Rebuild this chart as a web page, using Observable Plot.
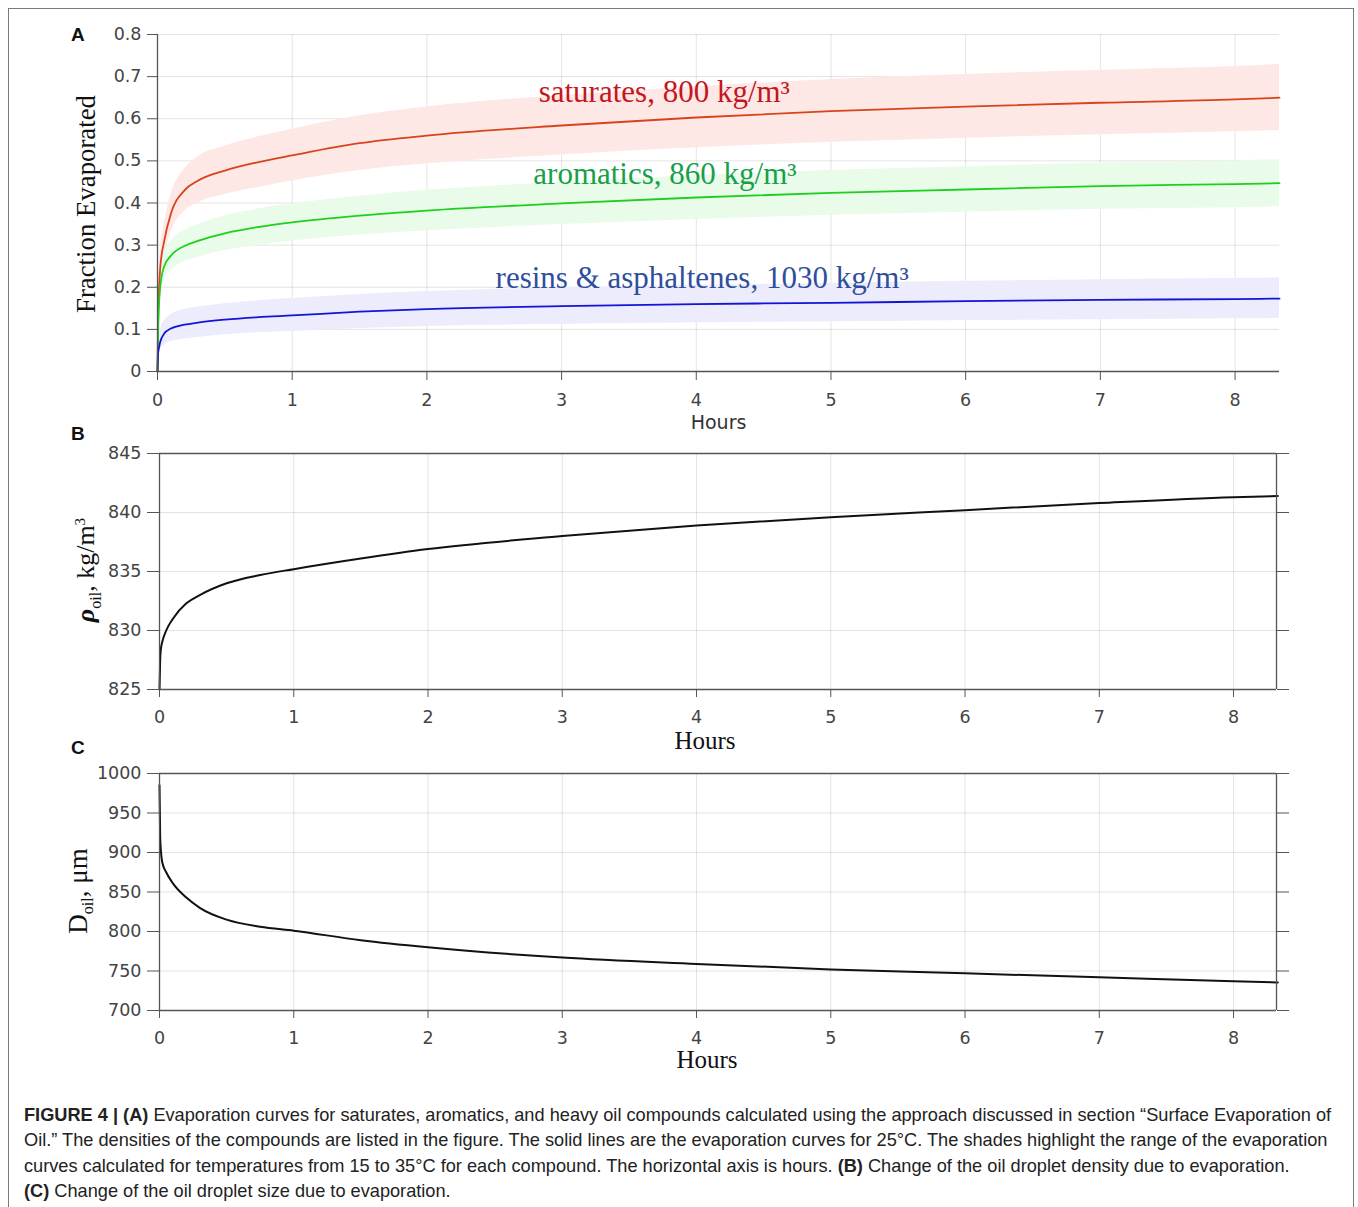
<!DOCTYPE html>
<html>
<head>
<meta charset="utf-8">
<script src="https://cdn.jsdelivr.net/npm/d3@7"></script>
<script src="https://cdn.jsdelivr.net/npm/@observablehq/plot@0.6"></script>
<style>
  html, body { margin:0; padding:0; background:#fff; }
  #page { position:relative; width:1358px; height:1207px; overflow:hidden; background:#fff; }
  .frame { position:absolute; left:8px; top:8px; width:1346px; height:1240px; border:1.5px solid #7a7a7a; box-sizing:border-box; }
  .plab { position:absolute; font-family:"Liberation Sans", Arial, sans-serif; font-weight:bold; font-size:19px; color:#111; }
  .ytitle { position:absolute; font-family:"Liberation Serif", serif; color:#111; white-space:nowrap; transform:translate(-50%,-50%) rotate(-90deg); }
  .caption { position:absolute; left:24px; top:1103px; font-family:"Liberation Sans", Arial, sans-serif; font-size:18.2px; line-height:25.3px; color:#222; white-space:nowrap; }
</style>
</head>
<body>
<div id="page">
  <div class="frame"></div>
</div>
<script>
// ---------- data ----------
const hours = [0, 0.005, 0.01, 0.02, 0.05, 0.1, 0.2, 0.3, 0.5, 0.75, 1, 1.5, 2, 3, 4, 5, 6, 7, 8, 8.33];

const saturates    = [0, 0.14, 0.185, 0.245, 0.31, 0.375, 0.43, 0.453, 0.477, 0.497, 0.513, 0.542, 0.56, 0.584, 0.603, 0.618, 0.629, 0.638, 0.646, 0.65];
const saturatesHi  = [0, 0.16, 0.21, 0.28, 0.35, 0.42, 0.48, 0.51, 0.535, 0.557, 0.575, 0.607, 0.628, 0.655, 0.676, 0.693, 0.705, 0.715, 0.724, 0.729];
const saturatesLo  = [0, 0.12, 0.16, 0.215, 0.27, 0.33, 0.38, 0.40, 0.42, 0.437, 0.452, 0.477, 0.493, 0.514, 0.531, 0.544, 0.554, 0.562, 0.569, 0.572];

const aromatics    = [0, 0.10, 0.15, 0.20, 0.25, 0.275, 0.298, 0.31, 0.328, 0.343, 0.354, 0.37, 0.382, 0.399, 0.413, 0.424, 0.432, 0.44, 0.445, 0.447];
const aromaticsHi  = [0, 0.113, 0.17, 0.225, 0.28, 0.31, 0.335, 0.349, 0.369, 0.386, 0.398, 0.416, 0.43, 0.449, 0.465, 0.477, 0.486, 0.495, 0.50, 0.503];
const aromaticsLo  = [0, 0.088, 0.13, 0.175, 0.219, 0.24, 0.261, 0.271, 0.287, 0.30, 0.31, 0.324, 0.334, 0.349, 0.361, 0.371, 0.378, 0.385, 0.389, 0.391];

const resins       = [0, 0.045, 0.055, 0.07, 0.09, 0.102, 0.111, 0.116, 0.123, 0.129, 0.133, 0.142, 0.148, 0.155, 0.16, 0.163, 0.167, 0.17, 0.172, 0.173];
const resinsHi     = [0, 0.06, 0.075, 0.095, 0.12, 0.135, 0.147, 0.153, 0.161, 0.168, 0.173, 0.183, 0.19, 0.199, 0.205, 0.209, 0.214, 0.218, 0.221, 0.222];
const resinsLo     = [0, 0.03, 0.038, 0.048, 0.062, 0.071, 0.077, 0.081, 0.087, 0.092, 0.095, 0.102, 0.107, 0.112, 0.116, 0.118, 0.121, 0.123, 0.125, 0.126];

const density      = [825, 827.5, 828.4, 829.0, 830.0, 831.0, 832.3, 833.0, 834.0, 834.7, 835.2, 836.1, 836.9, 838.0, 838.9, 839.6, 840.2, 840.8, 841.3, 841.4];
const diameter     = [985, 920, 903, 888, 875, 861, 843, 830, 815, 806, 801, 789, 780, 767, 759, 752, 747, 742, 737, 735.6];

const xTicks       = [0, 1, 2, 3, 4, 5, 6, 7, 8];
const fracTicks    = [0, 0.1, 0.2, 0.3, 0.4, 0.5, 0.6, 0.7, 0.8];
const densTicks    = [825, 830, 835, 840, 845];
const diamTicks    = [700, 750, 800, 850, 900, 950, 1000];

const seriesNames  = ["saturates", "aromatics", "resins"];
const seriesLabels = ["saturates, 800 kg/m³", "aromatics, 860 kg/m³", "resins & asphaltenes, 1030 kg/m³"];
const labelX       = [2.83, 2.79, 2.51];
const labelY       = [0.663, 0.468, 0.221];

// ---------- tables ----------
const mid = {saturates, aromatics, resins};
const hi = {saturates: saturatesHi, aromatics: aromaticsHi, resins: resinsHi};
const lo = {saturates: saturatesLo, aromatics: aromaticsLo, resins: resinsLo};
const evap = seriesNames.flatMap(s => hours.map((h, i) => ({s, h, v: mid[s][i], hi: hi[s][i], lo: lo[s][i]})));
const dens = hours.map((h, i) => ({h, v: density[i]}));
const diam = hours.map((h, i) => ({h, v: diameter[i]}));
const annos = seriesNames.map((s, i) => ({s, text: seriesLabels[i], x: labelX[i], y: labelY[i]}));

const lineCol = {saturates: "#d8431c", aromatics: "#1fcf1f", resins: "#1414d6"};
const bandCol = {saturates: "#fde8e6", aromatics: "#e9fbe9", resins: "#ececfc"};
const textCol = {saturates: "#c4161c", aromatics: "#17a04a", resins: "#2f4e9c"};

const page = document.getElementById("page");
const tickFont = {fontFamily: "DejaVu Sans, sans-serif", fontSize: "17.5px", color: "#444", background: "transparent", overflow: "visible"};
const gridStyle = {stroke: "#000", strokeOpacity: 0.11, strokeWidth: 1};
const fmtFrac = d => d === 0 ? "0" : d.toFixed(1);
const fmtInt = d => String(d);

function place(svg, top) {
  svg.style.position = "absolute";
  svg.style.left = "0px";
  svg.style.top = top + "px";
  page.appendChild(svg);
}

// ---------- panel A ----------
const pA = Plot.plot({
  width: 1358, height: 420,
  marginLeft: 157, marginRight: 79, marginTop: 14, marginBottom: 69,
  x: {domain: [0, 8.33]},
  y: {domain: [0, 0.8]},
  style: tickFont,
  marks: [
    Plot.gridX(xTicks.slice(1), gridStyle),
    Plot.gridY(fracTicks.slice(1), gridStyle),
    ...seriesNames.map(s => Plot.areaY(evap.filter(d => d.s === s), {x: "h", y1: "lo", y2: "hi", fill: bandCol[s], curve: "monotone-x"})),
    ...seriesNames.map(s => Plot.lineY(evap.filter(d => d.s === s), {x: "h", y: "v", stroke: lineCol[s], strokeWidth: 1.8, curve: "monotone-x"})),
    Plot.ruleX([0], {stroke: "#555", strokeWidth: 1.3}),
    Plot.ruleY([0], {stroke: "#555", strokeWidth: 1.3}),
    Plot.axisX(xTicks, {tickSize: 9, tickPadding: 13, tickFormat: fmtInt, label: null, stroke: "#555"}),
    Plot.axisY(fracTicks, {tickSize: 10, tickPadding: 6, tickFormat: fmtFrac, label: null, stroke: "#555"}),
    Plot.text(annos, {x: "x", y: "y", text: "text", fill: d => textCol[d.s], textAnchor: "start", fontFamily: "Liberation Serif, serif", fontSize: 31}),
    Plot.text(["Hours"], {frameAnchor: "bottom", dy: 57, fontFamily: "DejaVu Sans, sans-serif", fontSize: 19, fill: "#333"})
  ]
});
place(pA, 20);

// ---------- panel B ----------
const pB = Plot.plot({
  width: 1358, height: 320,
  marginLeft: 159, marginRight: 82, marginTop: 13, marginBottom: 71,
  x: {domain: [0, 8.32]},
  y: {domain: [825, 845]},
  style: tickFont,
  marks: [
    Plot.gridX(xTicks.slice(1), gridStyle),
    Plot.gridY(densTicks.slice(1, -1), gridStyle),
    Plot.lineY(dens, {x: "h", y: "v", stroke: "#111", strokeWidth: 2, curve: "monotone-x"}),
    Plot.ruleX([0, 8.32], {stroke: "#555", strokeWidth: 1.3}),
    Plot.ruleY([825, 845], {stroke: "#555", strokeWidth: 1.3}),
    Plot.axisX(xTicks, {tickSize: 8, tickPadding: 13, tickFormat: fmtInt, label: null, stroke: "#555"}),
    Plot.axisY(densTicks, {tickSize: 12, tickPadding: 6, tickFormat: fmtInt, label: null, stroke: "#555"}),
    Plot.axisY(densTicks, {anchor: "right", tickSize: 12, tickFormat: () => "", label: null, stroke: "#555"}),
    Plot.text(["Hours"], {frameAnchor: "bottom", dy: 59, dx: -13, fontFamily: "Liberation Serif, serif", fontSize: 25, fill: "#111"})
  ]
});
place(pB, 440);

// ---------- panel C ----------
const pC = Plot.plot({
  width: 1358, height: 330,
  marginLeft: 159, marginRight: 82, marginTop: 13, marginBottom: 80,
  x: {domain: [0, 8.32]},
  y: {domain: [700, 1000]},
  style: tickFont,
  marks: [
    Plot.gridX(xTicks.slice(1), gridStyle),
    Plot.gridY(diamTicks.slice(1, -1), gridStyle),
    Plot.lineY(diam, {x: "h", y: "v", stroke: "#111", strokeWidth: 2, curve: "monotone-x"}),
    Plot.ruleX([0, 8.32], {stroke: "#555", strokeWidth: 1.3}),
    Plot.ruleY([700, 1000], {stroke: "#555", strokeWidth: 1.3}),
    Plot.axisX(xTicks, {tickSize: 8, tickPadding: 13, tickFormat: fmtInt, label: null, stroke: "#555"}),
    Plot.axisY(diamTicks, {tickSize: 12, tickPadding: 6, tickFormat: fmtInt, label: null, stroke: "#555"}),
    Plot.axisY(diamTicks, {anchor: "right", tickSize: 12, tickFormat: () => "", label: null, stroke: "#555"}),
    Plot.text(["Hours"], {frameAnchor: "bottom", dy: 57, dx: -11, fontFamily: "Liberation Serif, serif", fontSize: 25, fill: "#111"})
  ]
});
place(pC, 760);

// ---------- HTML labels ----------
function addHTML(cls, html, left, top, extra) {
  const d = document.createElement("div");
  d.className = cls;
  d.innerHTML = html;
  d.style.left = left + "px";
  d.style.top = top + "px";
  if (extra) Object.assign(d.style, extra);
  page.appendChild(d);
  return d;
}
addHTML("plab", "A", 71, 24);
addHTML("plab", "B", 71, 423);
addHTML("plab", "C", 71, 737);
addHTML("ytitle", "Fraction Evaporated", 86, 204, {fontSize: "26.8px"});
addHTML("ytitle", "<b><i>&rho;</i></b><sub style='font-size:16px'>oil</sub>, kg/m<sup style='font-size:15px'>3</sup>", 88, 570, {fontSize: "26px"});
addHTML("ytitle", "D<sub style='font-size:16px'>oil</sub>, &mu;m", 80, 891, {fontSize: "27px"});
addHTML("caption",
  "<b>FIGURE 4 | (A)</b> Evaporation curves for saturates, aromatics, and heavy oil compounds calculated using the approach discussed in section “Surface Evaporation of<br>" +
  "Oil.” The densities of the compounds are listed in the figure. The solid lines are the evaporation curves for 25°C. The shades highlight the range of the evaporation<br>" +
  "curves calculated for temperatures from 15 to 35°C for each compound. The horizontal axis is hours. <b>(B)</b> Change of the oil droplet density due to evaporation.<br>" +
  "<b>(C)</b> Change of the oil droplet size due to evaporation.", 24, 1103);
</script>
</body>
</html>
